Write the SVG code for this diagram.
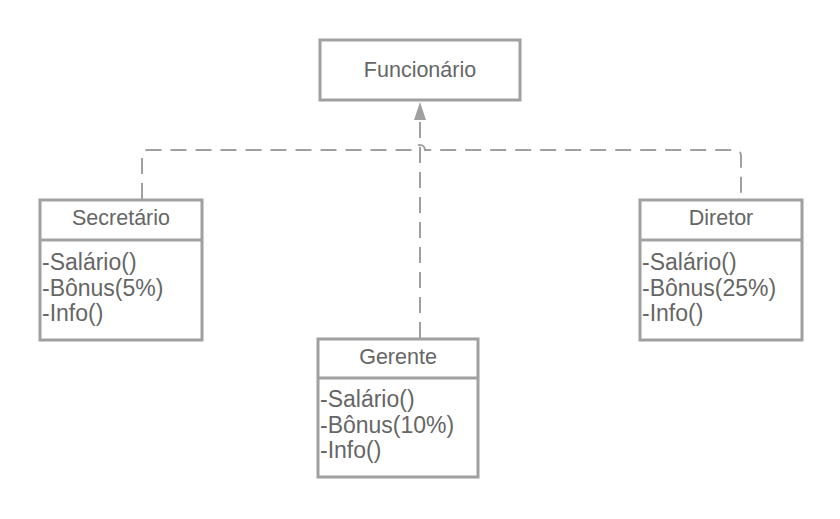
<svg xmlns="http://www.w3.org/2000/svg" width="840" height="519" viewBox="0 0 840 519">
<defs>
<style>
.box{fill:#ffffff;stroke:#a0a0a0;stroke-width:3}
.sep{stroke:#a0a0a0;stroke-width:3}
.conn{fill:none;stroke:#a0a0a0;stroke-width:2;stroke-dasharray:16 9}
.t{font-family:"Liberation Sans",Arial,sans-serif;font-size:21.5px;fill:#666666}
.m{font-size:23px}
.c{text-anchor:middle}
</style>
</defs>
<rect width="840" height="519" fill="#ffffff"/>
<g id="connectors">
<path class="conn" d="M142,199 L142,156 Q142,150 148,150 L415,150 A5,5 0 0 1 425,150 L735,150 Q741,150 741,156 L741,199"/>
<path class="conn" d="M420,338 L420,120"/>
<path d="M420,102 L426,120 L414,120 Z" fill="#a0a0a0"/>
</g>
<g id="funcionario">
<rect class="box" x="320" y="40" width="200" height="60"/>
<text class="t c" x="420" y="77">Funcionário</text>
</g>
<g id="secretario">
<rect class="box" x="40" y="200" width="162" height="140"/>
<line class="sep" x1="40" y1="240" x2="202" y2="240"/>
<text class="t c" x="121" y="225">Secretário</text>
<text class="t m" x="42" y="270">-Salário()</text>
<text class="t m" x="42" y="295.5">-Bônus(5%)</text>
<text class="t m" x="42" y="321">-Info()</text>
</g>
<g id="diretor">
<rect class="box" x="640" y="200" width="162" height="140"/>
<line class="sep" x1="640" y1="240" x2="802" y2="240"/>
<text class="t c" x="721" y="225">Diretor</text>
<text class="t m" x="642" y="270">-Salário()</text>
<text class="t m" x="642" y="295.5">-Bônus(25%)</text>
<text class="t m" x="642" y="321">-Info()</text>
</g>
<g id="gerente">
<rect class="box" x="318" y="339" width="160" height="138"/>
<line class="sep" x1="318" y1="378" x2="478" y2="378"/>
<text class="t c" x="398" y="364">Gerente</text>
<text class="t m" x="320" y="407">-Salário()</text>
<text class="t m" x="320" y="432.5">-Bônus(10%)</text>
<text class="t m" x="320" y="458">-Info()</text>
</g>
</svg>
